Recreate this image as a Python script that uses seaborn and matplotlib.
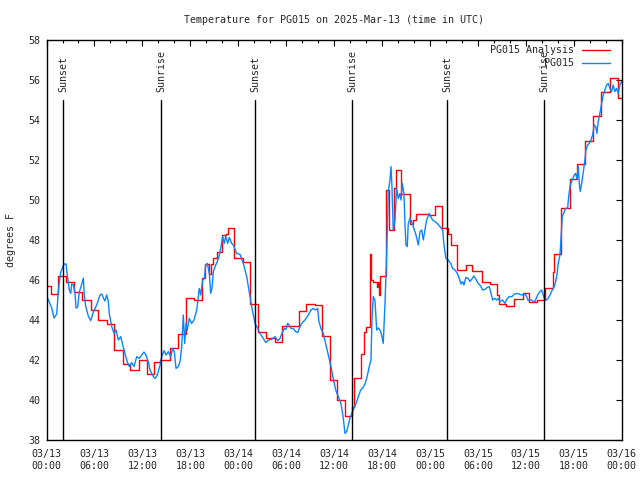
import matplotlib
matplotlib.use('Agg')

import numpy as np
import pandas as pd
import seaborn as sns
import matplotlib.pyplot as plt
from matplotlib.ticker import MultipleLocator


# hours since 2025-03-13 00:00 UTC
sunset_hours = [2.12, 26.13, 50.15]
sunrise_hours = [14.33, 38.3, 62.28]

tick_hours = [0, 6, 12, 18, 24, 30, 36, 42, 48, 54, 60, 66, 72]
tick_labels = ['03/13\n00:00', '03/13\n06:00', '03/13\n12:00', '03/13\n18:00',
               '03/14\n00:00', '03/14\n06:00', '03/14\n12:00', '03/14\n18:00',
               '03/15\n00:00', '03/15\n06:00', '03/15\n12:00', '03/15\n18:00',
               '03/16\n00:00']

# analysis (step changes)
analysis_hours = [0, 0.5, 1.4, 2.45, 3.45, 4.5, 5.55, 6.5, 7.55, 8.5, 9.55, 10.5,
                  11.55, 12.55, 13.5, 14.25, 15.5, 16.45, 17.5, 18.5, 19.45, 19.9,
                  20.35, 20.55, 20.8, 21.3, 21.95, 22.5, 22.7, 23.45, 24.6, 25.5,
                  26.5, 27.5, 28.55, 29.5, 31.55, 32.5, 33.6, 34.5, 35.5, 36.35,
                  37.4, 38.3, 38.55, 39.4, 39.7, 40.0, 40.5, 40.6, 40.9, 41.4,
                  41.55, 41.65, 41.8, 42.5, 42.9, 43.45, 43.8, 44.4, 45.45, 45.9,
                  46.3, 47.9, 48.6, 49.45, 50.3, 50.6, 51.4, 52.5, 53.3, 54.55,
                  55.5, 56.4, 56.65, 57.55, 58.5, 59.65, 60.4, 61.4, 62.45, 63.4,
                  63.55, 64.45, 65.5, 66.45, 67.45, 68.4, 69.45, 70.5, 71.55, 72.0]
analysis_temps = [45.7, 45.3, 46.2, 45.9, 45.4, 45.0, 44.5, 44.0, 43.8, 42.5, 41.8, 41.5,
                  42.0, 41.3, 41.9, 42.0, 42.6, 43.3, 45.1, 45.0, 46.1, 46.8,
                  46.3, 46.8, 47.1, 47.4, 48.25, 48.3, 48.6, 47.1, 46.9, 44.8,
                  43.4, 43.1, 42.9, 43.7, 44.45, 44.8, 44.75, 43.2, 41.0, 40.0,
                  39.2, 39.65, 41.1, 42.3, 43.4, 43.67, 47.3, 46.0, 45.9, 45.65,
                  45.9, 45.25, 46.2, 50.5, 48.5, 50.6, 51.5, 50.3, 48.8, 49.0,
                  49.3, 49.25, 49.7, 48.6, 48.3, 47.75, 46.5, 46.75, 46.47, 45.9,
                  45.8, 45.25, 44.8, 44.7, 45.05, 45.35, 44.9, 45.0, 45.6, 46.4,
                  47.3, 49.6, 51.05, 51.8, 52.95, 54.2, 55.4, 56.1, 55.1, 55.1]

# station observations
obs_hours = [0.0, 0.23, 0.65, 0.94, 1.28, 1.48, 1.78, 1.98, 2.19, 2.44, 2.6, 2.85, 3.03,
             3.15, 3.35, 3.57, 3.69, 3.9, 4.1, 4.41, 4.61, 4.73, 4.91, 5.23, 5.53, 5.86,
             6.28, 6.7, 6.91, 7.11, 7.32, 7.53, 7.73, 7.86, 8.16, 8.45, 8.7, 8.99, 9.29,
             9.54, 9.82, 10.11, 10.36, 10.66, 10.95, 11.29, 11.61, 11.92, 12.2, 12.45,
             12.74, 12.95, 13.37, 13.58, 13.87, 14.21, 14.42, 14.71, 14.96, 15.24, 15.54,
             15.8, 16.0, 16.21, 16.5, 16.71, 16.92, 17.12, 17.3, 17.46, 17.62, 17.87,
             18.17, 18.46, 18.8, 19.12, 19.3, 19.55, 19.75, 19.92, 20.13, 20.38, 20.55,
             20.71, 20.88, 21.18, 21.38, 21.59, 21.8, 22.05, 22.25, 22.43, 22.68, 22.88,
             23.18, 23.38, 23.8, 24.22, 24.63, 25.06, 25.47, 25.76, 26.1, 26.43, 26.72,
             27.13, 27.47, 27.76, 28.19, 28.6, 28.94, 29.22, 29.56, 29.76, 29.97, 30.19,
             30.39, 30.6, 30.89, 31.19, 31.44, 31.64, 31.94, 32.35, 32.77, 33.1, 33.39,
             33.64, 33.94, 34.1, 34.35, 34.64, 34.94, 35.27, 35.61, 35.89, 36.2, 36.52,
             36.86, 37.15, 37.36, 37.57, 37.77, 37.98, 38.2, 38.4, 38.74, 39.03, 39.33,
             39.58, 39.86, 40.08, 40.4, 40.61, 40.74, 40.9, 41.11, 41.33, 41.53, 41.74,
             41.95, 42.15, 42.37, 42.58, 42.78, 42.99, 43.12, 43.24, 43.4, 43.62, 43.83,
             44.03, 44.24, 44.37, 44.53, 44.74, 44.87, 44.99, 45.16, 45.28, 45.5, 45.71,
             45.91, 46.25, 46.54, 46.75, 46.96, 47.16, 47.37, 47.58, 47.91, 48.08, 48.33,
             48.62, 48.91, 49.25, 49.59, 49.75, 50.0, 50.29, 50.59, 50.84, 51.13, 51.42,
             51.67, 51.88, 52.09, 52.25, 52.5, 52.79, 53.0, 53.21, 53.5, 53.75, 54.04,
             54.34, 54.59, 54.88, 55.17, 55.42, 55.59, 55.85, 56.13, 56.35, 56.55, 56.76,
             57.1, 57.39, 57.6, 57.92, 58.26, 58.51, 58.85, 59.17, 59.47, 59.76, 60.01,
             60.3, 60.6, 60.85, 61.14, 61.48, 61.76, 61.98, 62.18, 62.39, 62.73, 63.02,
             63.31, 63.56, 63.73, 63.89, 64.06, 64.27, 64.39, 64.56, 64.81, 64.98, 65.23,
             65.39, 65.56, 65.81, 66.06, 66.23, 66.4, 66.56, 66.69, 66.81, 66.99, 67.19,
             67.4, 67.52, 67.74, 67.94, 68.15, 68.36, 68.56, 68.74, 68.9, 69.06, 69.27,
             69.49, 69.69, 69.9, 70.11, 70.31, 70.53, 70.74, 70.94, 71.15, 71.36, 71.56,
             71.78, 71.99]
obs_temps = [45.25, 45.0, 44.6, 44.1, 44.3, 45.5, 46.4, 46.6, 46.8, 46.8, 46.25, 45.5, 45.33,
             45.8, 45.77, 45.33, 44.6, 44.65, 45.4, 45.8, 46.1, 45.25, 44.67, 44.2, 43.97, 44.4,
             44.75, 45.25, 45.3, 45.1, 44.95, 45.25, 44.95, 44.3, 43.67, 43.33, 43.5, 43.0, 43.17,
             42.75, 42.33, 41.9, 41.67, 41.87, 41.67, 42.17, 42.08, 42.25, 42.4, 42.25,
             41.9, 41.5, 41.17, 41.08, 41.25, 41.75, 42.17, 42.47, 42.25, 42.42, 42.17,
             42.58, 42.4, 41.58, 41.67, 41.92, 42.67, 44.25, 42.83, 43.83, 43.5, 44.08,
             43.83, 44.0, 44.5, 45.58, 45.25, 46.0, 46.08, 46.75, 46.83, 46.33, 45.33,
             45.58, 46.42, 46.75, 46.92, 47.17, 47.58, 48.17, 47.83, 48.2, 47.83, 48.13,
             47.83, 47.75, 47.33, 47.28, 46.83, 46.17, 45.17, 44.5, 43.83, 43.58, 43.33,
             43.08, 42.87, 43.0, 43.03, 43.17, 42.97, 43.08, 43.42, 43.58, 43.53, 43.83,
             43.75, 43.58, 43.58, 43.42, 43.37, 43.58, 43.83, 44.0, 44.25, 44.5, 44.58,
             44.5, 44.58, 43.92, 43.58, 43.33, 42.83, 42.25, 41.67, 41.08, 40.5, 40.17,
             39.83, 39.08, 38.33, 38.42, 38.75, 39.08, 39.33, 39.5, 39.83, 40.17, 40.5,
             40.6, 40.8, 41.08, 41.67, 42.0, 44.0, 45.17, 45.0, 43.5, 43.6, 43.5,
             43.25, 42.83, 44.83, 47.33, 50.42, 51.0, 51.67, 50.67, 48.5, 49.0, 50.58,
             50.08, 50.33, 50.0, 50.83, 50.33, 48.83, 47.75, 47.67, 48.83, 49.08, 48.92,
             48.67, 48.25, 47.75, 48.42, 48.5, 48.0, 48.5, 49.0, 49.33, 49.17, 49.0,
             48.92, 48.83, 48.67, 48.5, 47.75, 47.08, 47.0, 46.83, 46.58, 46.5, 46.33,
             46.08, 45.8, 45.92, 45.75, 46.13, 46.08, 45.92, 46.03, 46.2, 46.03, 45.83,
             45.7, 45.5, 45.53, 45.63, 45.67, 45.42, 45.0, 45.08, 45.0, 45.08, 44.92,
             45.0, 44.83, 45.03, 45.17, 45.17, 45.28, 45.33, 45.3, 45.25, 45.28, 45.25,
             44.97, 45.03, 44.95, 44.92, 45.25, 45.42, 45.5, 45.25, 44.97, 45.05, 45.25,
             45.5, 45.67, 45.92, 46.25, 46.83, 47.25, 48.0, 49.17, 49.42, 49.58, 49.6,
             50.25, 50.75, 51.0, 51.25, 51.33, 51.08, 51.67, 50.83, 50.42, 50.83, 51.42,
             52.0, 52.5, 52.75, 52.83, 53.0, 53.25, 53.75, 53.67, 53.33, 53.92, 54.33,
             54.83, 55.25, 55.5, 55.75, 55.83, 55.58, 55.42, 55.75, 55.42, 55.58, 55.33,
             55.75, 55.92]

analysis = pd.DataFrame({'hours': analysis_hours, 'temp': analysis_temps})
obs = pd.DataFrame({'hours': obs_hours, 'temp': obs_temps})

sns.set_style('white')
plt.rcParams['font.family'] = ['DejaVu Sans Mono']
plt.rcParams['font.size'] = 7.2

fig = plt.figure(figsize=(6.4, 4.8), dpi=100)
ax = fig.add_axes([0.0727, 0.0833, 0.8987, 0.8334])

sns.lineplot(data=analysis, x='hours', y='temp', color='#ff0000', linewidth=1.0,
             drawstyle='steps-post', sort=False, label='PG015 Analysis', ax=ax)
sns.lineplot(data=obs, x='hours', y='temp', color='#0a84ff', linewidth=1.0,
             sort=False, label='PG015', ax=ax)

for h in sunset_hours:
    ax.plot([h, h], [38, 55], color='black', linewidth=1.0)
    ax.text(h, 55.4, 'Sunset', rotation=90, ha='center', va='bottom')
for h in sunrise_hours:
    ax.plot([h, h], [38, 55], color='black', linewidth=1.0)
    ax.text(h, 55.4, 'Sunrise', rotation=90, ha='center', va='bottom')

ax.set_xlim(0, 72)
ax.set_ylim(38, 58)
ax.set_xticks(tick_hours)
ax.set_xticklabels(tick_labels, linespacing=1.25)
ax.xaxis.set_minor_locator(MultipleLocator(2))
ax.yaxis.set_major_locator(MultipleLocator(2))
ax.tick_params(which='major', direction='in', length=4, width=0.8, color='black',
               top=True, right=True)
ax.tick_params(which='minor', direction='in', length=2.2, width=0.8, color='black',
               top=True, right=True)
ax.tick_params(axis='x', which='major', pad=6.5)
ax.tick_params(axis='y', which='major', pad=4.5)
for s in ax.spines.values():
    s.set_color('black')
    s.set_linewidth(1.0)

ax.set_xlabel('')
ax.set_ylabel('degrees F', labelpad=9)
ax.set_title('Temperature for PG015 on 2025-Mar-13 (time in UTC)', fontsize=7.2, pad=12)

ax.legend(loc='upper right', bbox_to_anchor=(1 - 11.7 / 575, 1 - 5.5 / 400),
          frameon=False, markerfirst=False, borderpad=0, borderaxespad=0,
          handlelength=2.8, handletextpad=0.75, labelspacing=0.3)

fig.savefig('out.png', dpi=100)
plt.close(fig)
